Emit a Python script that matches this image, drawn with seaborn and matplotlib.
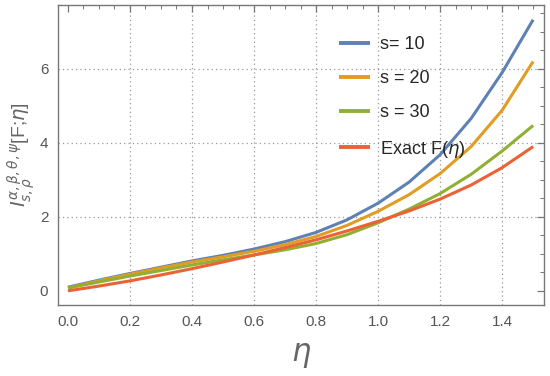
import numpy as np
import pandas as pd
import matplotlib
matplotlib.use("Agg")
import matplotlib.pyplot as plt
import seaborn as sns
from matplotlib.ticker import MultipleLocator

# values
eta = [0.0, 0.1, 0.2, 0.3, 0.4, 0.5, 0.6, 0.7, 0.8, 0.9, 1.0, 1.1, 1.2, 1.3, 1.4, 1.5]
s10 = [0.10, 0.29, 0.47, 0.64, 0.81, 0.96, 1.13, 1.33, 1.58, 1.92, 2.37, 2.94, 3.68, 4.66, 5.90, 7.33]
s20 = [0.08, 0.27, 0.45, 0.62, 0.78, 0.92, 1.07, 1.25, 1.47, 1.77, 2.15, 2.60, 3.17, 3.90, 4.88, 6.20]
s30 = [0.08, 0.24, 0.40, 0.55, 0.70, 0.84, 0.97, 1.11, 1.28, 1.52, 1.84, 2.21, 2.63, 3.15, 3.78, 4.47]
exact = [0.00, 0.13, 0.27, 0.43, 0.60, 0.78, 0.97, 1.17, 1.38, 1.62, 1.88, 2.16, 2.48, 2.86, 3.33, 3.90]

labels = ["s= 10", "s = 20", "s = 30", r"Exact F($\eta$)"]
colors = ["#5E81B5", "#E19C24", "#8FB032", "#EB6235"]
x_grid = [0.2, 0.4, 0.6, 0.8, 1.0, 1.2, 1.4]
y_grid = [2, 4, 6]

df = pd.concat([
    pd.DataFrame({"eta": eta, "val": v, "curve": lab})
    for v, lab in zip([s10, s20, s30, exact], labels)
])

sns.set_theme(style="white")
plt.rcParams["font.family"] = ["Liberation Sans", "DejaVu Sans"]

fig = plt.figure(figsize=(5.5, 3.76), dpi=100)
ax = fig.add_axes([0.1055, 0.189, 0.883, 0.798])

for gx in x_grid:
    ax.axvline(gx, color="#999999", lw=0.9, ls=(0, (1, 2.5)), zorder=0)
for gy in y_grid:
    ax.axhline(gy, color="#999999", lw=0.9, ls=(0, (1, 2.5)), zorder=0)

sns.lineplot(data=df, x="eta", y="val", hue="curve", hue_order=labels,
             palette=colors, lw=2.2, ax=ax, sort=False)
for ln in ax.get_lines():
    ln.set_solid_capstyle("butt")
    ln.set_solid_joinstyle("round")

ax.set_xlim(-0.032, 1.534)
ax.set_ylim(-0.38, 7.73)
ax.xaxis.set_major_locator(MultipleLocator(0.2))
ax.xaxis.set_minor_locator(MultipleLocator(0.05))
ax.yaxis.set_major_locator(MultipleLocator(2))
ax.yaxis.set_minor_locator(MultipleLocator(0.5))
ax.set_xticks([0.0, 0.2, 0.4, 0.6, 0.8, 1.0, 1.2, 1.4])
ax.set_xticklabels(["0.0", "0.2", "0.4", "0.6", "0.8", "1.0", "1.2", "1.4"])

for sp in ax.spines.values():
    sp.set_color("#777777")
    sp.set_linewidth(1.0)
ax.tick_params(which="both", direction="in", top=True, right=True,
               color="#777777", labelcolor="#555555", labelsize=11)
ax.tick_params(which="major", length=5, width=0.9, pad=7)
ax.tick_params(which="minor", length=3, width=0.7)

ax.set_xlabel(r"$\eta$", fontsize=22, color="#666666", labelpad=8)
ax.set_ylabel(r"$I^{\alpha,\beta,\theta,\psi}_{s,\rho}$[F;$\eta$]",
              fontsize=14, color="#666666", labelpad=2)

leg = ax.legend(loc="upper left", bbox_to_anchor=(0.545, 0.95), frameon=False,
                fontsize=13, handlelength=1.7, handletextpad=0.6,
                labelspacing=0.95)
for h in leg.get_lines():
    h.set_linewidth(2.8)

fig.savefig("out.png", dpi=100)
